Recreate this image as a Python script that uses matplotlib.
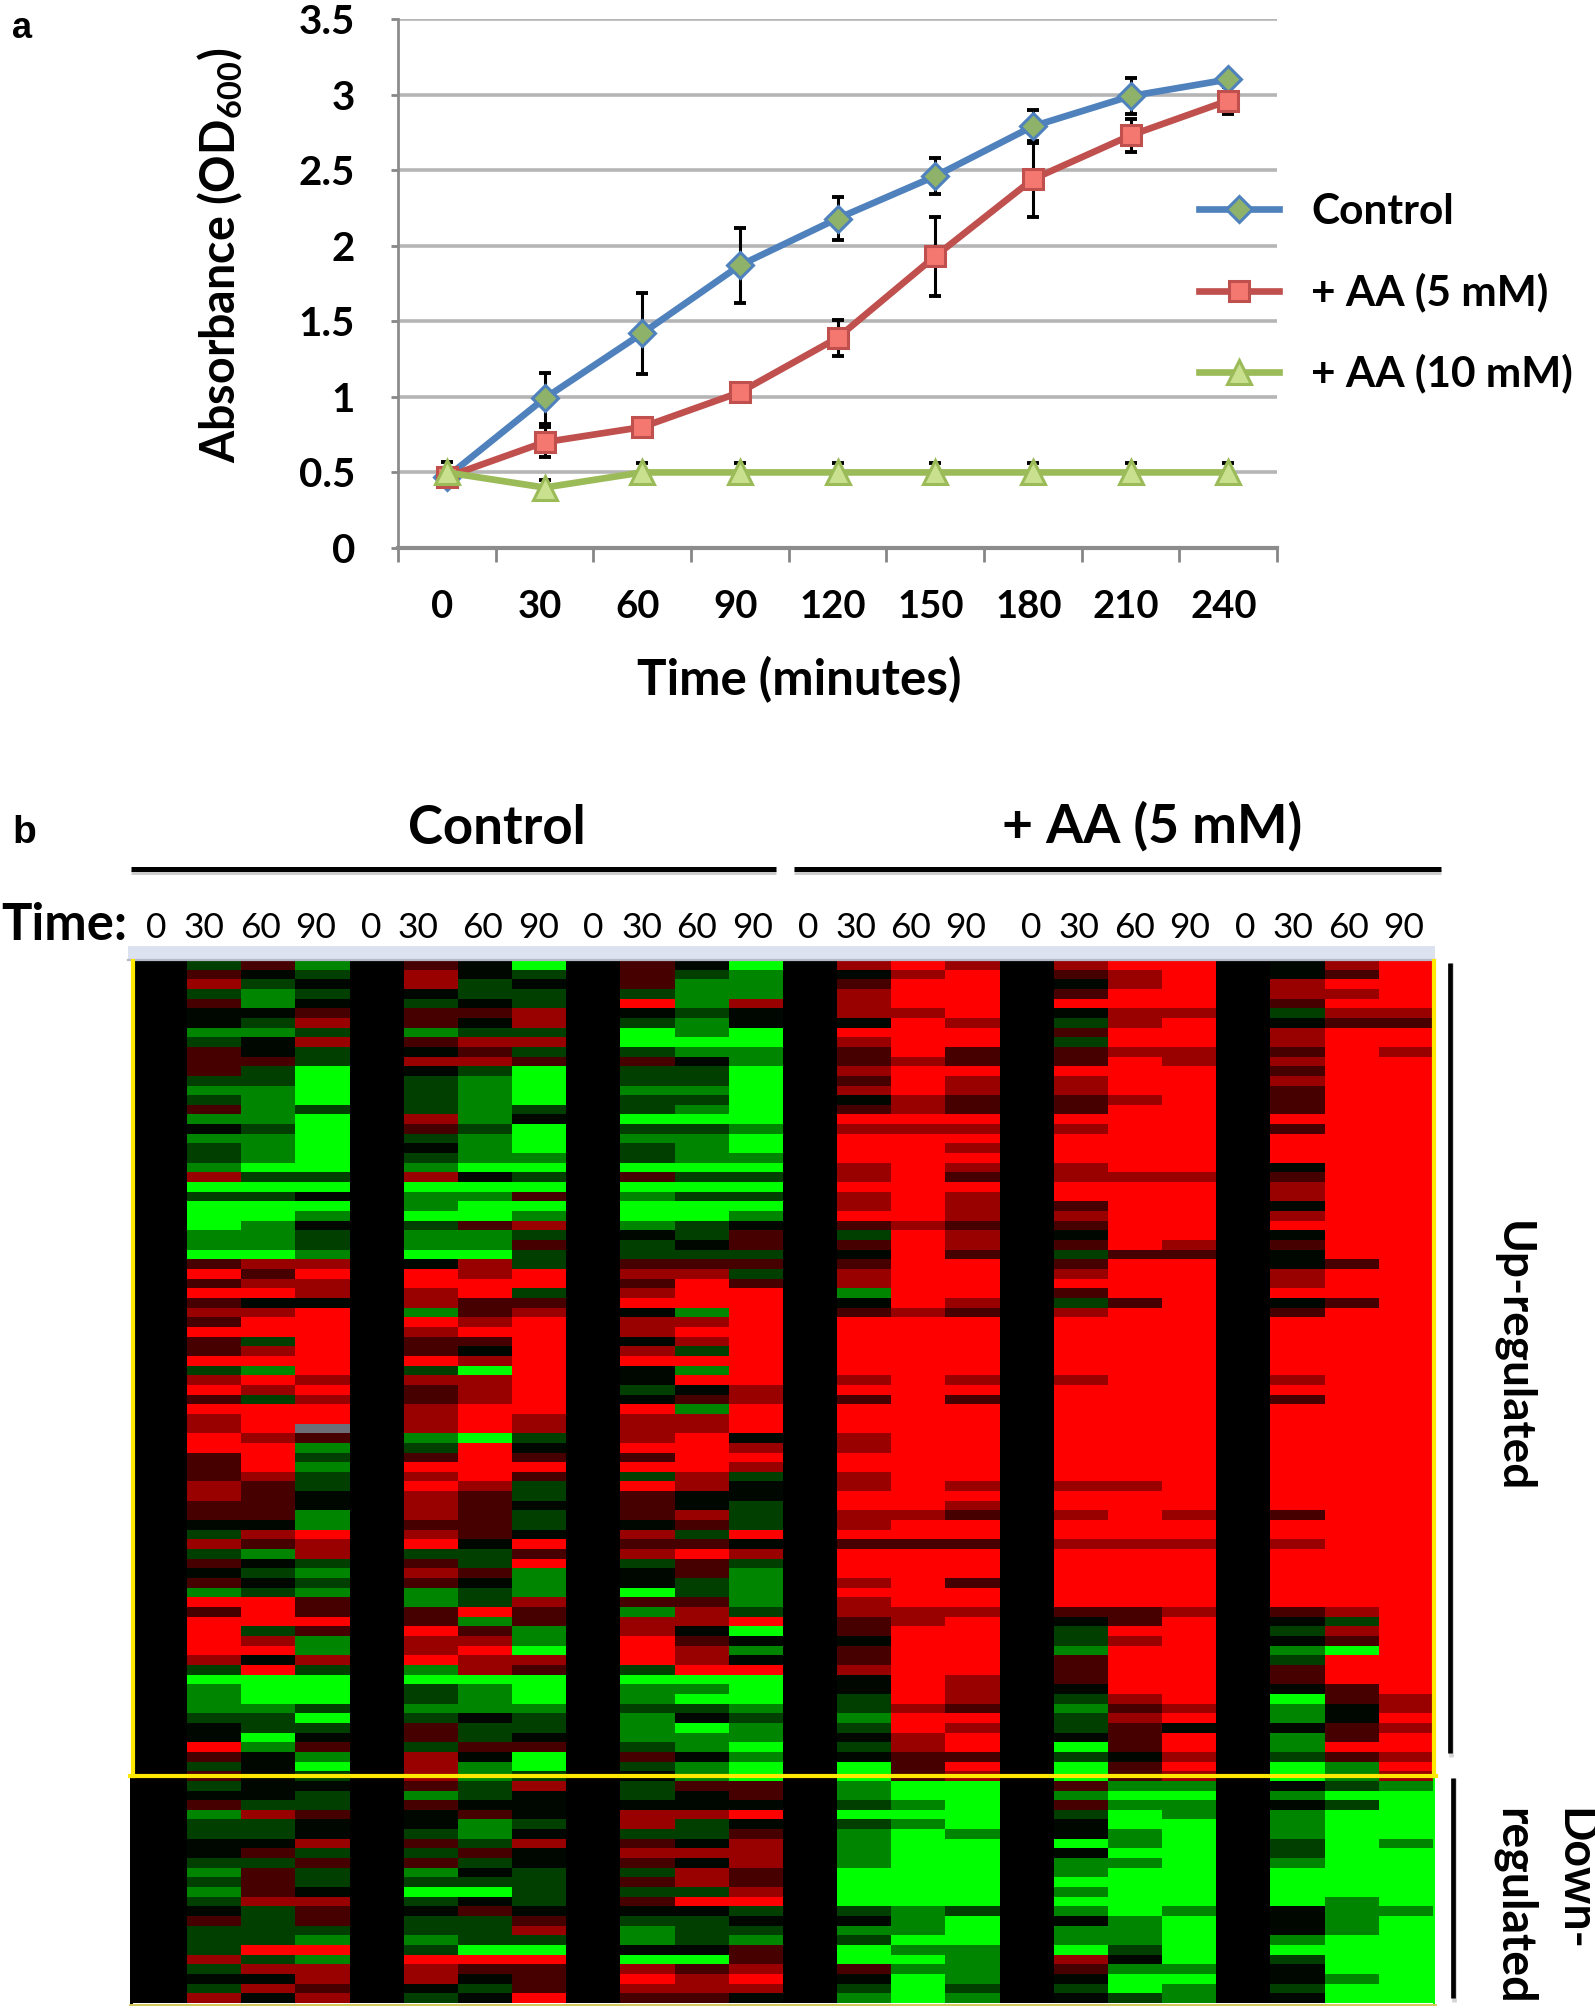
import numpy as np
import matplotlib
matplotlib.use("Agg")
import matplotlib.pyplot as plt
from matplotlib.colors import LinearSegmentedColormap
from matplotlib.patches import Rectangle
from matplotlib.transforms import ScaledTranslation

plt.rcParams['font.family'] = ['Lato', 'DejaVu Sans']
plt.rcParams['mathtext.fontset'] = 'custom'
plt.rcParams['mathtext.bf'] = 'Lato:bold'
plt.rcParams['mathtext.rm'] = 'Lato'

# ---------- panel a data ----------
times = ['0', '30', '60', '90', '120', '150', '180', '210', '240']
y_ticks = [0, 0.5, 1, 1.5, 2, 2.5, 3, 3.5]
y_tick_labels = ['0', '0.5', '1', '1.5', '2', '2.5', '3', '3.5']
control = [0.47, 0.99, 1.42, 1.87, 2.18, 2.46, 2.79, 2.99, 3.10]
aa5 = [0.47, 0.70, 0.80, 1.03, 1.39, 1.93, 2.44, 2.73, 2.96]
aa10 = [0.50, 0.40, 0.50, 0.50, 0.50, 0.50, 0.50, 0.50, 0.50]
control_err = [0.06, 0.17, 0.27, 0.25, 0.14, 0.12, 0.11, 0.12, 0.02]
aa5_err = [0.06, 0.10, 0.04, 0.02, 0.12, 0.26, 0.25, 0.11, 0.09]
aa10_err = [0.07, 0.05, 0.06, 0.06, 0.06, 0.06, 0.06, 0.06, 0.06]
series_names = ['Control', '+ AA (5 mM)', '+ AA (10 mM)']

# ---------- panel b data ----------
# G/g/h = strong/medium/weak green, . = black, d/r/R = weak/medium/strong red,
# x = missing. Each string: 30|60|90 min for the three replicates.
control_rows = [
 "hdg|d.G|d.G","d.h|r.h|dhg","rh.|rh.|dgg","hgh|.hh|hgg","dg.|h.h|Rgr","..d|ddr|.h.",
 ".hr|d.r|hg.","ggh|ghh|GgG","h.r|drr|GGG","d.h|.dh|hgg","ddh|rrd|d.g","dhG|.hG|hhG",
 "hhG|hgG|hhG","ggG|hgG|ggG","hgG|hgG|hhG","dgh|hgh|hgG","ggG|rg.|GGG",".hG|dhG|hhg",
 "ggG|hgG|ggG","hgG|.gG|hgG","hgG|hgg|hgg","gGG|gGG|GGG","rhh|r.h|dhh","GGG|GGG|GGG",
 "hh.|ggd|ghh","GGG|gGG|GGG","GGg|GGg|GGg","Gg.|hdr|gh.","ggh|ggh|.hd","ggh|ggd|h.d",
 "GGg|GGh|hhh","drr|.rh|ddd","RdR|RrR|rrh","drr|RRR|dRd","RRr|rRh|rRR","d..|rdd|RRR",
 "rrR|gdr|.gR","dRR|RrR|rrR","RRR|rRR|rRR","dhR|ddR|.rR","drR|d.R|rhR","RRR|RrR|RRR",
 "hgR|hGR|.gR","rRr|rrR|.RR","RrR|drR|h.r","dhr|drR|.dr","RRR|rRR|RgR","rRR|rRr|rrR",
 "rRx|rRr|rrR","Rrd|gGh|rR.","RRg|hR.|RRr","dRh|dRd|dRR","dRg|RRR|RRr","drh|rRd|hrh",
 "rdh|Rrh|Rr.","rd.|rdh|d..","dd.|rd.|d.h","ddg|rdh|drh","..g|ddh|.dh","hrR|rd.|rhR",
 "rdr|R.R|dd.","hgr|hhd|rRr","d.h|dhR|hdh",".hg|rdg|.dg","d.h|d.g|.hg","ghg|ghg|Ghg",
 "RRd|ghr|ddg","dRd|dRd|grh","RRR|dgd|rrR","Rhd|Rdg|r.G","Rrg|rrg|Rd.","RRg|rRG|Rrg",
 "r.r|Rrr|Rr.","hRh|grd|hRR","GGG|GGG|GGG","gGG|hgG|ggG","gGG|hgG|gGG","ggh|ggg|hhg",
 "hhG|h.h|g.h",".hh|dhh|gGg",".G.|dh.|ggg","Rgd|hdd|hgG","d.g|r.G|d.g","h.G|rgG|hgG",
 "d.h|rgh|.gG","h..|dhr|hdd","..h|gh.|h.d","dhh|d..|...","grd|.d.|rrR","hh.|.gh|rh.",
 "hh.|hg.|hhd","..r|dhr|d.r",".dh|hd.|rrr","hhd|dh.|d.r","gdh|g.h|hrd","hdh|hhh|drd",
 "gd.|GGh|hhr","hrr|h.h|dRR",".hd|.d.|..h","dhd|hhd|hh.","hhh|hhr|ghh","hhg|ghh|ghg",
 "hRR|hGG|..d","rhg|RRR|GGd","hrr|rdd|rdr","..r|r.d|RrR","hrd|.hd|rrr","r.r|h.R|dd.",
]
aa_rows = [
 "rRr|rRR|.rR",".rR|drR|.dR","dRR|.rR|rRR","rRR|dRR|rrR","rRR|RRR|dRR","rrR|.rr|hrr",
 ".Rr|hrR|.dd","RRR|dRR|rRR","rRR|hRR|rRR","dRd|drr|dRr","drd|dRr|rRR","rRR|RRR|dRR",
 "dRr|rRR|rRR","rRr|rRR|dRR",".rd|drR|dRR","drd|dRR|dRR","RRR|RRR|RRR","rrr|rRR|dRR",
 "RRR|RRR|RRR","RRr|RRR|RRR","RRR|RRR|RRR","rRr|rRR|.RR","rRd|rrr|dRR","RRR|RRR|rRR",
 "rRr|RRR|rRR","rRr|dRR|.RR","RRr|rRR|rRR","drd|dRR|RRR","hRr|.RR|.RR","dRr|dRr|dRR",
 ".Rd|hdd|.RR","dRR|dRR|.dR","rRR|rRR|rRR","rRR|RRR|rRR","gRR|dRR|RRR",".Rr|hdR|.dR",
 "drd|rRR|dRR","RRR|RRR|RRR","RRR|RRR|RRR","RRR|RRR|RRR","RRR|RRR|RRR","RRR|RRR|RRR",
 "RRR|RRR|RRR","rRr|rRR|rRR","RRR|RRR|RRR","dRd|RRR|dRR","RRR|RRR|RRR","RRR|RRR|RRR",
 "RRR|RRR|RRR","rRR|RRR|RRR","rRR|RRR|RRR","RRR|RRR|RRR","RRR|RRR|RRR","rRR|RRR|RRR",
 "rRr|rrR|RRR","RRR|RRR|RRR","RRr|RRR|RRR","rrd|rRr|dRR","rRR|RRR|RRR","RRR|RRR|RRR",
 "ddd|rrr|rRR","RRR|RRR|RRR","RRR|RRR|RRR","RRR|RRR|RRR","rRd|RRR|RRR","RRR|RRR|RRR",
 "rRR|RRR|RRR","rrr|ddr|drR","drR|.dR|.hR","dRR|hRR|hrR",".RR|hrR|.dR","dRR|gRR|gGR",
 "dRR|dRR|hRR","rRR|dRR|dRR",".Rr|dRR|dRR",".Rr|.RR|.dR","hRr|hrR|Gdr","hrd|gdr|g.r",
 "gRR|hrR|g.R","hRr|hd.|.dr",".rR|.dR|gdR","hrR|GdR|gRR",".dd|h.r|hdr","GdR|GdR|GgR",
 "Gdr|Gdr|Ggr","gGG|dgg|.hg","gGG|gGG|gGG","hgG|dgg|.hG","GGG|hGg|gGG","hgG|.GG|gGG",
 "gGg|.gG|gGG","gGG|GgG|hGg","gGG|.GG|hGG","gGG|ggG|gGG","GGG|gGG|GGG","GGG|GGG|GGG",
 "GGG|gGG|GGG","GGG|GGG|GgG","hgh|gGg|.gg",".gG|.gG|.gG","ggG|ggG|.gG","hGG|ggG|gGG",
 "Ggg|GhG|GGG","GGg|r.G|hGG","dgg|dgg|.GG",".Gg|.GG|.gG","hGh|hGg|hGG","gGg|.hg|.GG",
]
time_labels = ['0', '30', '60', '90'] * 6
level_values = {'G': -1.0, 'g': -0.52, 'h': -0.25, '.': -0.03, 'd': 0.28, 'r': 0.6, 'R': 1.0, 'x': np.nan}

W, H = 1595, 2009
fig = plt.figure(figsize=(W / 100, H / 100), dpi=100)
def pos(l, t, r, b):
    return [l / W, 1 - b / H, (r - l) / W, (b - t) / H]

# ---------- panel a ----------
ax = fig.add_axes(pos(398, 19, 1277, 548))
xs = np.arange(len(times))
styles = [
    (control, control_err, '#4F81BD', '#8FB26A', 'D', 13),
    (aa5, aa5_err, '#C0504D', '#F4786F', 's', 14),
    (aa10, aa10_err, '#9BBB59', '#C9E08F', '^', 17),
]
for vals, errs, lc, fc, mk, ms in styles:
    ax.errorbar(xs, vals, yerr=errs, fmt='none', ecolor='black', elinewidth=2.2,
                capsize=4.5, capthick=2.8, zorder=3)
handles = []
for (vals, errs, lc, fc, mk, ms), name in zip(styles, series_names):
    line, = ax.plot(xs, vals, color=lc, lw=4.8, marker=mk, ms=ms, mfc=fc, mec=lc,
                    mew=2.2, zorder=4, label=name, clip_on=False)
    handles.append(line)
ax.set_xlim(-0.5, 8.5)
ax.set_ylim(0, 3.5)
ax.set_yticks(y_ticks)
ax.set_yticklabels(y_tick_labels, fontsize=29, fontweight='bold')
ax.set_xticks(xs)
ax.set_xticklabels(times, fontsize=27.5, fontweight='bold')
ax.set_xticks(np.arange(-0.5, 9), minor=True)
ax.tick_params(axis='x', which='major', length=0, pad=30)
ax.tick_params(axis='x', which='minor', length=10, width=2, color='#868686')
ax.tick_params(axis='y', length=5, width=2, color='#868686', pad=26)
shift = ScaledTranslation(-4.5 / 100, 0, fig.dpi_scale_trans)
for lab in ax.get_xticklabels():
    lab.set_transform(lab.get_transform() + shift)
ax.grid(axis='y', color='#B5B5B5', lw=2.6, zorder=0)
ax.set_axisbelow(True)
for s in ['top', 'right']:
    ax.spines[s].set_visible(False)
ax.spines['left'].set_color('#8C8C8C')
ax.spines['left'].set_linewidth(2)
ax.spines['bottom'].set_color('#8C8C8C')
ax.spines['bottom'].set_linewidth(3)
leg = fig.legend(handles=handles, loc='upper left', bbox_to_anchor=(1199 / W, 1 - 193 / H),
                 frameon=False, numpoints=1, handlelength=1.9,
                 labelspacing=0.98, handletextpad=0.75, borderpad=0, borderaxespad=0,
                 prop={'weight': 'bold', 'size': 30.5})

# ---------- panel b heat map ----------
def decode(rows):
    out = []
    for row in rows:
        cells = []
        for group in row.split('|'):
            cells.append(0.0)
            cells.extend(level_values[c] for c in group)
        out.append(cells)
    return np.array(out)

matrix = np.hstack([decode(control_rows), decode(aa_rows)])
cmap = LinearSegmentedColormap.from_list('gbr', ['#00FF00', '#000000', '#FF0000'], N=256)
cmap.set_bad('#6E6E78')
hm = fig.add_axes(pos(133, 961, 1433, 2003))
hm.imshow(np.ma.masked_invalid(matrix), cmap=cmap, vmin=-1, vmax=1, aspect='auto', interpolation='nearest')
hm.axis('off')

# ---------- overlay in pixel coordinates ----------
ov = fig.add_axes([0, 0, 1, 1], zorder=10)
ov.set_xlim(0, W)
ov.set_ylim(H, 0)
ov.axis('off')
ov.patch.set_alpha(0)
ov.add_patch(Rectangle((128, 946), 1307, 15, fc='#DDE2F1', ec='none'))
ov.plot([128, 1435], [960, 960], color='#B5B8C6', lw=1.6)
ov.add_patch(Rectangle((130, 1776), 3, 228, fc='black', ec='none'))
ov.add_patch(Rectangle((1433, 1776), 2, 228, fc='#00FF00', ec='none'))
yellow = '#FFE900'
ov.plot([133, 133], [961, 1776], color=yellow, lw=3)
ov.plot([1433.5, 1433.5], [961, 1776], color=yellow, lw=3)
ov.plot([130, 1436], [1776, 1776], color=yellow, lw=3)
ov.plot([130, 1436], [2004.5, 2004.5], color='#C9BE3C', lw=1.2)
for x0, x1 in [(131, 776), (794, 1441)]:
    ov.plot([x0, x1], [872, 872], color='#CCCCCC', lw=3.5, solid_capstyle='butt')
    ov.plot([x0, x1], [869, 869], color='black', lw=3.6, solid_capstyle='butt')
for x, y0, y1 in [(1450, 963, 1753), (1453, 1778, 1998)]:
    ov.plot([x + 1, x + 1], [y0, y1 + 4], color='#D5D5D5', lw=3.4, solid_capstyle='butt')
    ov.plot([x, x], [y0, y1], color='black', lw=3.4, solid_capstyle='butt')

ov.text(22, 28, 'a', fontsize=26, fontweight='bold', ha='center', va='center', family=['Liberation Sans'])
ov.text(24, 833, 'b', fontsize=28, fontweight='bold', ha='center', va='center', family=['Liberation Sans'])
ov.text(220, 255, r'Absorbance (OD$_{\mathbf{600}}$)', fontsize=33.5, fontweight='bold', rotation=90,
        ha='center', va='center')
ov.text(799, 680, 'Time (minutes)', fontsize=35.5, fontweight='bold', ha='center', va='center')
ov.text(497, 828, 'Control', fontsize=38, fontweight='bold', ha='center', va='center')
ov.text(1152, 826, '+ AA (5 mM)', fontsize=38.5, fontweight='bold', ha='center', va='center')
ov.text(1, 925, 'Time:', fontsize=36.5, fontweight='bold', ha='left', va='center')
label_px = [156, 204, 261, 316, 371, 418, 483, 539, 593, 642, 697, 753, 808, 856, 911, 966,
            1031, 1079, 1134, 1190, 1245, 1293, 1348, 1404]
for x, t in zip(label_px, time_labels):
    ov.text(x, 928, t, fontsize=25.5, ha='center', va='center')
ov.text(1513, 1357, 'Up-regulated', fontsize=33, fontweight='bold', rotation=-90, ha='center', va='center')
ov.text(1574, 1808, 'Down-', fontsize=33.5, fontweight='bold', rotation=-90, ha='center', va='top')
ov.text(1513, 1808, 'regulated', fontsize=33.5, fontweight='bold', rotation=-90, ha='center', va='top')

fig.savefig('out.png', dpi=100)
